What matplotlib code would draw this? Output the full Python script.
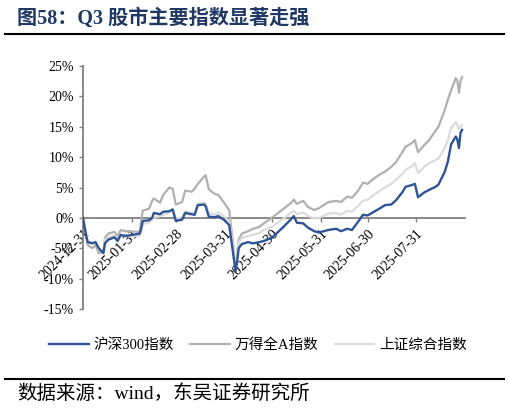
import matplotlib
matplotlib.use("Agg")
import matplotlib.pyplot as plt
import matplotlib.dates as mdates
from matplotlib.lines import Line2D
import pandas as pd

# cumulative return since 2024-12-31, %
dates = ["2024-12-31", "2025-01-02", "2025-01-03", "2025-01-06", "2025-01-08", "2025-01-10",
         "2025-01-13", "2025-01-14", "2025-01-16", "2025-01-20", "2025-01-22", "2025-01-24",
         "2025-01-27", "2025-02-05", "2025-02-06", "2025-02-07", "2025-02-11", "2025-02-13",
         "2025-02-14", "2025-02-18", "2025-02-20", "2025-02-24", "2025-02-26", "2025-02-28",
         "2025-03-04", "2025-03-06", "2025-03-10", "2025-03-12", "2025-03-14", "2025-03-18",
         "2025-03-19", "2025-03-21", "2025-03-25", "2025-03-27", "2025-03-31", "2025-04-03",
         "2025-04-07", "2025-04-08", "2025-04-09", "2025-04-11", "2025-04-15", "2025-04-18",
         "2025-04-22", "2025-04-25", "2025-04-30", "2025-05-07", "2025-05-12", "2025-05-14",
         "2025-05-16", "2025-05-20", "2025-05-23", "2025-05-27", "2025-05-30", "2025-06-05",
         "2025-06-10", "2025-06-13", "2025-06-17", "2025-06-20", "2025-06-24", "2025-06-27",
         "2025-06-30", "2025-07-04", "2025-07-08", "2025-07-11", "2025-07-15", "2025-07-18",
         "2025-07-22", "2025-07-24", "2025-07-28", "2025-07-30", "2025-08-01", "2025-08-05",
         "2025-08-08", "2025-08-12", "2025-08-14", "2025-08-18", "2025-08-20", "2025-08-22",
         "2025-08-25", "2025-08-26", "2025-08-27", "2025-08-28", "2025-08-29"]

hs300 = [0, -2.9, -4.0, -4.2, -4.0, -5.0, -5.8, -4.2, -3.6, -3.2, -3.8, -2.8,
         -3.0, -2.6, -1.8, -0.5, -0.4, 0.0, 0.8, 0.6, 1.0, 1.1, 1.4, -0.5,
         -0.3, 0.8, 0.6, 0.5, 2.1, 2.2, 1.9, 0.2, 0.1, 0.3, -0.4, -1.2,
         -8.8, -7.2, -5.0, -4.3, -4.0, -4.2, -4.0, -3.8, -3.3, -1.6, -0.3, 0.3,
         -0.8, -0.9, -1.6, -2.2, -2.4, -2.0, -1.8, -2.2, -1.8, -2.0, -0.6, 0.5,
         0.4, 1.0, 1.6, 2.1, 2.2, 2.9, 4.2, 5.1, 5.4, 5.6, 3.4, 4.2,
         4.6, 5.1, 5.5, 7.6, 9.3, 12.1, 13.4, 12.9, 11.5, 14.0, 14.5]

wind_a = [0, -2.5, -4.5, -5.0, -4.5, -5.8, -5.6, -3.3, -2.6, -2.3, -3.0, -2.0,
          -2.2, -2.3, -0.5, 1.2, 1.5, 2.8, 3.2, 2.5, 3.8, 5.0, 4.8, 2.2,
          2.6, 4.5, 4.3, 4.8, 5.6, 6.8, 7.0, 4.7, 3.9, 3.8, 2.4, 1.2,
          -7.8, -5.8, -3.6, -2.6, -2.2, -1.8, -1.5, -0.9, 0.0, 1.4, 2.4, 3.0,
          2.3, 2.8, 1.8, 1.3, 1.6, 2.6, 2.8, 2.6, 3.5, 3.3, 4.5, 5.8,
          5.6, 6.5, 7.2, 7.6, 8.4, 9.2, 10.8, 11.7, 12.3, 12.8, 10.8, 12.0,
          12.8, 14.3, 15.0, 17.8, 19.5, 21.0, 23.0, 22.6, 20.6, 22.5, 23.2]

sse = [0, -2.6, -3.9, -4.0, -3.9, -5.2, -5.5, -3.6, -3.2, -2.9, -3.6, -2.8,
       -3.0, -3.0, -2.2, -1.0, -0.8, -0.3, 0.0, 0.3, 0.5, 0.9, 1.3, -0.1,
       0.1, 1.1, 0.8, 0.9, 2.3, 2.5, 2.4, 0.8, 0.5, 0.9, 0.2, -0.6,
       -7.2, -5.8, -4.0, -3.3, -3.0, -2.8, -2.5, -2.0, -1.5, -0.2, 0.8, 1.2,
       0.6, 0.9, 0.3, -0.1, 0.0, 0.7, 0.8, 0.5, 1.2, 1.0, 2.0, 2.8,
       3.0, 3.8, 4.5, 5.0, 5.6, 6.3, 7.2, 7.9, 8.5, 9.0, 7.4, 8.4,
       9.0, 9.5, 9.8, 11.5, 12.8, 14.8, 15.8, 15.3, 14.6, 15.0, 15.3]

tick_dates = ["2024-12-31", "2025-01-31", "2025-02-28", "2025-03-31",
              "2025-04-30", "2025-05-31", "2025-06-30", "2025-07-31"]

serif_cjk = ["Liberation Serif", "Noto Sans CJK SC"]

x = pd.to_datetime(dates)

fig = plt.figure(figsize=(5.09, 4.13), dpi=100)
ax = fig.add_axes([0.163, 0.252, 0.751, 0.588])

ax.plot(x, hs300, color="#2f5597", lw=1.7, label="沪深300指数", zorder=3)
ax.plot(x, wind_a, color="#b0b0b0", lw=1.6, label="万得全A指数", zorder=2)
ax.plot(x, sse, color="#dcdcdc", lw=1.6, label="上证综合指数", zorder=2)

ax.set_ylim(-15, 25)
ax.set_yticks(range(-15, 26, 5))
ax.set_yticklabels([f"{v}%" for v in range(-15, 26, 5)])
ax.set_xlim(pd.Timestamp("2024-12-31"), pd.Timestamp("2025-08-31"))
ax.set_xticks(pd.to_datetime(tick_dates))
ax.xaxis.set_major_formatter(mdates.DateFormatter("%Y-%m-%d"))

for s in ["top", "right"]:
    ax.spines[s].set_visible(False)
ax.spines["bottom"].set_position(("data", 0))
for s in ["bottom", "left"]:
    ax.spines[s].set_color("#808080")
    ax.spines[s].set_linewidth(1.3)
ax.spines["bottom"].set_zorder(1)

ax.tick_params(axis="both", direction="out", length=3, width=1, color="#808080",
               labelsize=10)
for lab in ax.get_xticklabels():
    lab.set_rotation(45)
    lab.set_ha("right")
    lab.set_rotation_mode("anchor")
for lab in ax.get_xticklabels() + ax.get_yticklabels():
    lab.set_fontfamily("Liberation Serif")

fig.legend(loc="center", bbox_to_anchor=(0.507, 0.165), ncol=3, frameon=False,
           handlelength=2.7, handletextpad=0.35, columnspacing=1.1,
           prop={"family": serif_cjk, "size": 10.5})

fig.text(0.033, 0.956, "图58：Q3 股市主要指数显著走强", family=serif_cjk, weight="bold",
         fontsize=14.5, color="#1f3864", va="center")
fig.add_artist(Line2D([0.01, 0.99], [0.917, 0.917], color="black", lw=1.5))
fig.add_artist(Line2D([0.01, 0.99], [0.082, 0.082], color="black", lw=1.5))
fig.text(0.033, 0.047, "数据来源：wind，东吴证券研究所", family=serif_cjk,
         fontsize=14, color="black", va="center")

fig.savefig("out.png", dpi=100)
